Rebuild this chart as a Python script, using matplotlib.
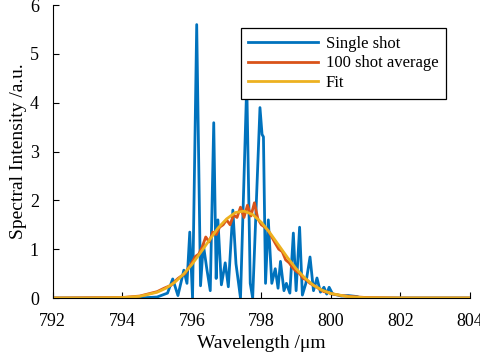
import matplotlib
matplotlib.use("Agg")
import matplotlib.pyplot as plt
import numpy as np

# Single shot spectrum
single_wl = [792.0, 794.5, 795.0, 795.3, 795.45, 795.6, 795.77, 795.86, 795.94, 796.02,
             796.14, 796.25, 796.33, 796.43, 796.53, 796.63, 796.7, 796.75, 796.85, 796.96,
             797.05, 797.18, 797.27, 797.4, 797.58, 797.68, 797.75, 797.96, 798.02, 798.06,
             798.12, 798.2, 798.3, 798.4, 798.48, 798.55, 798.65, 798.72, 798.82, 798.92,
             799.0, 799.1, 799.18, 799.28, 799.4, 799.5, 799.6, 799.7, 799.8, 799.88,
             799.95, 800.05, 800.2, 800.3, 800.5, 800.75, 800.85, 804.0]
single_int = [0.0, 0.0, 0.02, 0.1, 0.39, 0.05, 0.57, 0.3, 1.35, 0.0,
              5.6, 0.25, 1.1, 0.6, 0.15, 3.59, 0.4, 1.6, 0.27, 0.72,
              0.23, 1.8, 0.7, 0.0, 4.4, 0.3, 0.0, 3.9, 3.35, 3.3,
              0.3, 1.6, 0.3, 0.6, 0.2, 0.75, 0.15, 0.3, 0.1, 1.33,
              0.15, 1.45, 0.06, 0.3, 0.84, 0.15, 0.41, 0.12, 0.22, 0.08,
              0.22, 0.08, 0.06, 0.04, 0.05, 0.03, 0.0, 0.0]

# 100 shot average
avg_wl = [792.0, 794.0, 794.5, 795.0, 795.2, 795.4, 795.6, 795.8, 796.0, 796.1,
          796.2, 796.3, 796.4, 796.5, 796.6, 796.7, 796.8, 796.9, 797.0, 797.1,
          797.2, 797.3, 797.4, 797.5, 797.6, 797.7, 797.8, 797.9, 798.0, 798.1,
          798.2, 798.3, 798.4, 798.5, 798.6, 798.7, 798.8, 798.9, 799.0, 799.1,
          799.2, 799.3, 799.4, 799.5, 799.6, 799.7, 799.8, 799.9, 800.0, 800.3,
          800.6, 801.0, 802.0, 804.0]
avg_int = [0.0, 0.01, 0.04, 0.13, 0.2, 0.26, 0.4, 0.5, 0.72, 0.85,
           0.9, 1.05, 1.25, 1.15, 1.35, 1.3, 1.45, 1.5, 1.6, 1.5,
           1.7, 1.65, 1.86, 1.65, 1.9, 1.68, 1.95, 1.62, 1.5, 1.45,
           1.38, 1.25, 1.12, 1.0, 0.95, 0.78, 0.72, 0.62, 0.55, 0.5,
           0.4, 0.37, 0.3, 0.26, 0.22, 0.17, 0.13, 0.12, 0.09, 0.05,
           0.03, 0.01, 0.0, 0.0]

# Fit curve
fit_wl = [792.0, 793.0, 794.0, 794.5, 795.0, 795.25, 795.5, 795.75, 796.0, 796.25,
          796.5, 796.75, 797.0, 797.25, 797.5, 797.75, 798.0, 798.25, 798.5, 798.75,
          799.0, 799.25, 799.5, 799.75, 800.0, 800.5, 801.0, 802.0, 804.0]
fit_int = [0.0, 0.0, 0.008, 0.034, 0.117, 0.198, 0.317, 0.48, 0.686, 0.93,
           1.18, 1.43, 1.62, 1.75, 1.78, 1.71, 1.55, 1.33, 1.08, 0.83,
           0.60, 0.41, 0.26, 0.16, 0.093, 0.026, 0.006, 0.0, 0.0]

plt.rcParams["font.family"] = ["Liberation Serif", "DejaVu Serif"]
plt.rcParams["font.size"] = 13

fig = plt.figure(figsize=(4.8, 3.61), dpi=100)
ax = fig.add_axes([0.110, 0.1745, 0.869, 0.8115])

ax.plot(single_wl, single_int, color="#0072BD", linewidth=2.0, label="Single shot")
ax.plot(avg_wl, avg_int, color="#D95319", linewidth=2.0, label="100 shot average")
ax.plot(fit_wl, fit_int, color="#EDB120", linewidth=2.0, label="Fit")

ax.set_xlim(792, 804)
ax.set_ylim(0, 6)
ax.set_xticks(np.arange(792, 805, 2))
ax.set_yticks(np.arange(0, 7, 1))
ax.spines["top"].set_visible(False)
ax.spines["right"].set_visible(False)
ax.tick_params(direction="in", length=4, width=0.8, labelsize=13)
ax.tick_params(axis="x", pad=10.5)
ax.tick_params(axis="y", pad=10)
ax.set_xlabel("Wavelength /\u03bcm", fontsize=14, labelpad=4)
ax.set_ylabel("Spectral Intensity /a.u.", fontsize=14, labelpad=2)

leg = ax.legend(loc="upper left", bbox_to_anchor=(0.451, 0.921), borderaxespad=0,
                fancybox=False, edgecolor="black", framealpha=1, handlelength=4.2,
                handletextpad=0.45, labelspacing=0.22, borderpad=0.45, fontsize=12)
leg.get_frame().set_linewidth(0.9)

fig.savefig("out.png", dpi=100)
